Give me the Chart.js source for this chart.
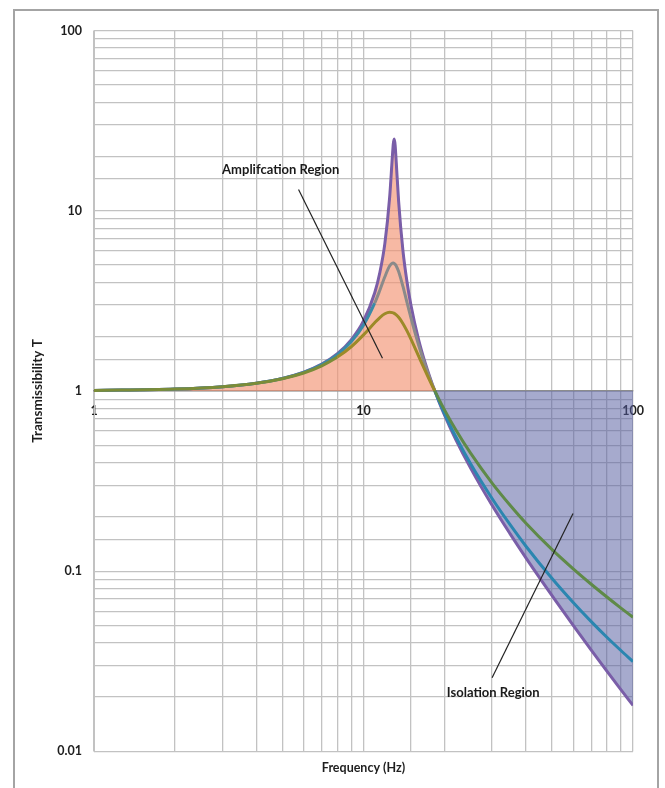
<!DOCTYPE html>
<html>
<head>
<meta charset="utf-8">
<script src="https://cdn.jsdelivr.net/npm/chart.js@4"></script>
<style>
  body { margin: 0; background: #fff; }
  #frame {
    position: absolute; left: 13px; top: 9px;
    width: 642px; height: 779px;
    border: 2px solid #a4a4a4; border-bottom: none;
  }
  #frame canvas { position: absolute; left: 0; top: 0; }
</style>
</head>
<body>
<div id="frame"><canvas id="tChart" width="642" height="777"></canvas></div>
<script>
// frequencies (Hz) read along the x axis
var freqs = [1, 2, 3, 4, 5, 6, 7, 8, 9, 10, 11, 11.5, 12, 12.5, 12.8, 12.9, 13, 13.1, 13.2, 13.5,
  14, 14.5, 15, 16, 17, 18, 18.4, 19, 20, 22, 25, 30, 35, 40, 50, 60, 70, 80, 90, 100];

// transmissibility
var lowDamping = [1.006, 1.024, 1.056, 1.105, 1.174, 1.271, 1.408, 1.609, 1.919, 2.443, 3.498, 4.541,
  6.565, 11.82, 20.08, 23.52, 25.02, 23.19, 19.59, 11.28, 6.049, 4.034, 2.992, 1.936, 1.406, 1.090,
  1.0, 0.881, 0.732, 0.537, 0.372, 0.232, 0.161, 0.119, 0.0734, 0.0501, 0.0365, 0.0279, 0.0221, 0.0180];
var midDamping = [1.006, 1.024, 1.056, 1.104, 1.172, 1.267, 1.400, 1.591, 1.874, 2.319, 3.068, 3.622,
  4.299, 4.930, 5.115, 5.122, 5.099, 5.047, 4.967, 4.601, 3.815, 3.099, 2.542, 1.805, 1.366, 1.083,
  1.0, 0.888, 0.747, 0.557, 0.393, 0.253, 0.181, 0.138, 0.0913, 0.0670, 0.0525, 0.0430, 0.0364, 0.0315];
var highDamping = [1.006, 1.024, 1.056, 1.103, 1.169, 1.258, 1.379, 1.541, 1.759, 2.047, 2.389, 2.554,
  2.680, 2.734, 2.721, 2.709, 2.693, 2.673, 2.650, 2.562, 2.370, 2.153, 1.938, 1.565, 1.280, 1.067,
  1.0, 0.907, 0.783, 0.609, 0.450, 0.308, 0.232, 0.185, 0.132, 0.103, 0.0846, 0.0719, 0.0626, 0.0555];

var crossover = 18.4;   // where every curve passes T = 1

function pts(values, keep) {
  var out = [];
  for (var i = 0; i < freqs.length; i++) {
    if (!keep || keep(freqs[i])) out.push({ x: freqs[i], y: values[i] });
  }
  return out;
}

// colour of a line changes between the regions
function regionColour(left, peak, right, split) {
  return function (ctx) {
    var x = ctx.p0.parsed.x;
    if (x < split) return left;
    if (x < crossover) return peak;
    return right;
  };
}

var notes = [
  { text: 'Amplifcation Region', at: [4.93, 16.8], from: [5.74, 13.1], to: [11.76, 1.52] },
  { text: 'Isolation Region', at: [30.3, 0.0212], from: [30.0, 0.0256], to: [59.9, 0.209] }
];

var notePlugin = {
  id: 'notes',
  afterDatasetsDraw: function (chart) {
    var c = chart.ctx, xs = chart.scales.x, ys = chart.scales.y;
    c.save();
    c.strokeStyle = '#222';
    c.lineWidth = 1.2;
    c.fillStyle = '#1a1a1a';
    c.font = 'bold 13px Lato';
    c.textAlign = 'center';
    c.textBaseline = 'middle';
    notes.forEach(function (n) {
      c.beginPath();
      c.moveTo(xs.getPixelForValue(n.from[0]), ys.getPixelForValue(n.from[1]));
      c.lineTo(xs.getPixelForValue(n.to[0]), ys.getPixelForValue(n.to[1]));
      c.stroke();
      c.fillText(n.text, xs.getPixelForValue(n.at[0]), ys.getPixelForValue(n.at[1]));
    });
    c.restore();
  }
};

function decadeOnly(v) {
  var e = Math.log10(v);
  if (Math.abs(e - Math.round(e)) < 1e-9) return String(Number(v.toPrecision(3)));
  return '';
}

Chart.defaults.font.family = 'Lato';
Chart.defaults.font.weight = 'bold';
Chart.defaults.color = '#1e1e1e';

new Chart(document.getElementById('tChart'), {
  type: 'line',
  data: {
    datasets: [{
      label: 'zeta 0.2',
      data: pts(highDamping),
      borderWidth: 3,
      segment: { borderColor: regionColour('#7b8c38', '#9c8a28', '#5f8a48', 8) },
      order: 1
    }, {
      label: 'zeta 0.1',
      data: pts(midDamping),
      borderWidth: 3,
      segment: { borderColor: regionColour('#3a8aa8', '#8a8a8a', '#2b86b0', 10.5) },
      order: 2
    }, {
      label: 'zeta 0.02',
      data: pts(lowDamping),
      borderColor: '#7a5ea8',
      borderWidth: 3,
      order: 3
    }, {
      label: 'amplification',
      data: pts(lowDamping, function (f) { return f <= crossover; }),
      borderColor: '#d9435a',
      borderWidth: 1.5,
      backgroundColor: 'rgba(243,145,112,0.64)',
      fill: { value: 1 },
      order: 10
    }, {
      label: 'isolation',
      data: pts(lowDamping, function (f) { return f >= crossover; }),
      borderColor: 'rgba(0,0,0,0)',
      borderWidth: 0,
      backgroundColor: 'rgba(84,92,160,0.52)',
      fill: { value: 1 },
      order: 11
    }]
  },
  options: {
    responsive: false,
    animation: false,
    cubicInterpolationMode: 'monotone',
    elements: { point: { radius: 0 } },
    layout: { padding: { left: 0, right: 24, top: 17, bottom: 12.6 } },
    plugins: {
      legend: { display: false },
      tooltip: { enabled: false },
      title: {
        display: true,
        position: 'bottom',
        fullSize: false,
        text: 'Frequency (Hz)',
        font: { size: 12.5, weight: 'bold' },
        color: '#1e1e1e',
        padding: { top: 9, bottom: 0 }
      }
    },
    scales: {
      x: {
        type: 'logarithmic',
        min: 1,
        max: 100,
        position: { y: 1 },
        grid: { color: '#c2c2c2', lineWidth: 1.3, drawTicks: false },
        border: { color: '#8c8c8c', width: 1.5 },
        ticks: { autoSkip: false, maxRotation: 0, padding: 13, font: { size: 12.5 }, callback: decadeOnly }
      },
      y: {
        type: 'logarithmic',
        min: 0.01,
        max: 100,
        afterFit: function (s) { s.width = 79; },
        grid: { color: '#c2c2c2', lineWidth: 1.3, drawTicks: false },
        border: { color: '#c2c2c2' },
        ticks: { autoSkip: false, padding: 12, font: { size: 12.5 }, callback: decadeOnly },
        title: {
          display: true,
          text: 'Transmissibility T',
          font: { size: 13.5, weight: 'bold' },
          padding: { top: 15, bottom: 0 }
        }
      }
    }
  },
  plugins: [notePlugin]
});
</script>
</body>
</html>
